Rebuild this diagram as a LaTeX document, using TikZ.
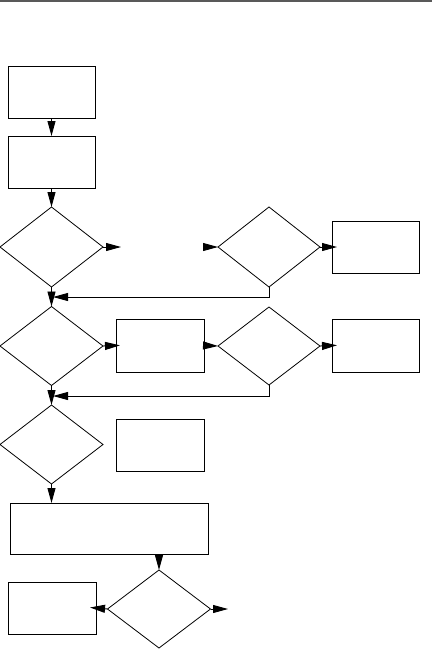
\documentclass[tikz,border=0pt]{standalone}
\usetikzlibrary{shapes.geometric,arrows.meta}
\begin{document}
\begin{tikzpicture}[x=1pt,y=-1pt,
  line width=0.9pt,
  box/.style={draw=black,rectangle,inner sep=0pt,outer sep=0pt},
  dia/.style={draw=black,diamond,inner sep=0pt,outer sep=0pt,line width=0.8pt},
  arr/.style={draw=black,line width=0.9pt,-{Triangle[length=15pt,width=8pt]}}]
\useasboundingbox (0,0) rectangle (432,649);
\draw[black!65,line width=1.5pt] (0,0.75) -- (432,0.75);
% nodes
\node[box,minimum width=87pt,minimum height=52pt] (b1) at (51.5,92) {};
\node[box,minimum width=87pt,minimum height=52pt] (b2) at (51.5,162) {};
\node[dia,minimum width=103pt,minimum height=80pt] (d1) at (51.5,247) {};
\node[dia,minimum width=102pt,minimum height=80pt] (d2) at (269,247) {};
\node[box,minimum width=87pt,minimum height=52pt] (r1) at (375.5,247) {};
\node[dia,minimum width=103pt,minimum height=79pt] (d3) at (51.5,346) {};
\node[box,minimum width=88pt,minimum height=53pt] (m1) at (160,345.5) {};
\node[dia,minimum width=102pt,minimum height=78pt] (d4) at (269,346) {};
\node[box,minimum width=87pt,minimum height=53pt] (r2) at (375.5,345.5) {};
\node[dia,minimum width=103pt,minimum height=79pt] (d5) at (51.5,444.5) {};
\node[box,minimum width=88pt,minimum height=52pt] (m2) at (160,445) {};
\node[box,minimum width=198pt,minimum height=51pt] (w) at (109,528.5) {};
\node[dia,minimum width=103pt,minimum height=78pt] (d6) at (159,609) {};
\node[box,minimum width=88pt,minimum height=52pt] (l) at (52,608) {};
% free ends
\coordinate (e1) at (121,247);
\coordinate (s2) at (204,247);
\coordinate (j1) at (53,297);
\coordinate (j2) at (53,396);
\coordinate (e6) at (228,609);
% connectors
\draw[arr] (b1.south) -- (b2.north);
\draw[arr] (b2.south) -- (d1.north);
\draw[arr] (d1.east) -- (e1);
\draw[arr] (s2) -- (d2.west);
\draw[arr,shorten >=-5pt] (d2.east) -- (r1.west);
\draw[arr] (d2.south) |- (j1);
\draw[arr] (d1.south) -- (d3.north);
\draw[arr,shorten >=-4pt] (d3.east) -- (m1.west);
\draw[arr] (m1.east) -- (d4.west);
\draw[arr,shorten >=-5pt] (d4.east) -- (r2.west);
\draw[arr] (d4.south) |- (j2);
\draw[arr] (d3.south) -- (d5.north);
\draw[arr] (d5.south) -- (d5.south |- w.north);
\draw[arr] (w.south -| d6.north) -- (d6.north);
\draw[arr,shorten >=-6pt] (d6.west) -- (l.east);
\draw[arr] (d6.east) -- (e6);
\end{tikzpicture}
\end{document}
